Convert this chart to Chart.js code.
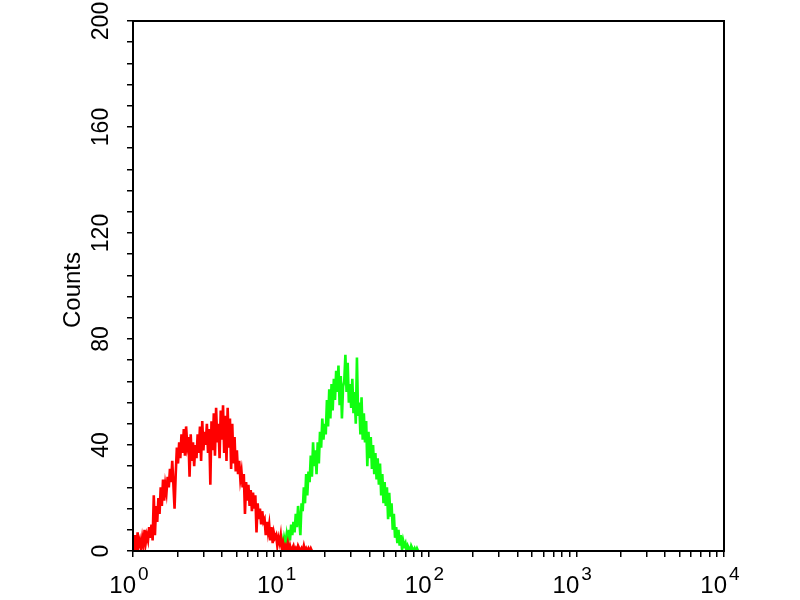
<!DOCTYPE html>
<html>
<head>
<meta charset="utf-8">
<script src="https://cdn.jsdelivr.net/npm/chart.js@4.4.0/dist/chart.umd.min.js"></script>
<style>
  body { margin: 0; background: #fff; }
  #wrap { width: 800px; height: 600px; }
</style>
</head>
<body>
<div id="wrap"><canvas id="chart"></canvas></div>
<script>
// histogram channels: 1024 channels over 4 log decades, one value every 2 channels
const channelStep = 2;
const redStart = 0;
const redCounts = [3, 1, 6, 0, 7, 2, 4, 1, 5, 2,
  8, 3, 6, 4, 9, 5, 10, 4, 21, 6,
  17, 11, 20, 14, 24, 17, 27, 19, 25, 22,
  28, 24, 31, 26, 34, 25, 16, 29, 39, 33,
  41, 35, 44, 37, 46, 36, 47, 40, 43, 28,
  44, 34, 41, 32, 40, 35, 44, 37, 47, 34,
  49, 38, 45, 40, 48, 37, 46, 25, 49, 38,
  52, 36, 54, 41, 48, 35, 53, 42, 55, 37,
  51, 34, 54, 39, 50, 31, 48, 33, 43, 30,
  38, 29, 34, 27, 30, 24, 29, 14, 26, 19,
  25, 17, 23, 15, 22, 16, 21, 7, 18, 12,
  16, 10, 15, 11, 12, 6, 11, 7, 10, 4,
  9, 3, 7, 5, 6, 2, 5, 3, 6, 1,
  3, 0, 2, 1, 3, 0, 2, 0, 1, 2,
  0, 1, 0, 2, 1, 0, 1, 0, 2, 0,
  1, 0, 1, 0, 1, 0, 0];
const greenStart = 256;
const greenCounts = [2, 4, 1, 5, 3, 6, 2, 8, 4, 10,
  6, 11, 7, 14, 9, 17, 12, 6, 18, 15,
  24, 18, 29, 21, 30, 26, 36, 28, 41, 32,
  38, 29, 41, 33, 45, 39, 50, 42, 48, 44,
  57, 47, 61, 50, 63, 53, 65, 57, 68, 60,
  70, 55, 66, 50, 62, 64, 74, 60, 71, 56,
  63, 54, 65, 52, 60, 48, 73, 51, 56, 44,
  58, 42, 52, 41, 49, 32, 45, 35, 43, 31,
  40, 29, 37, 27, 35, 25, 33, 21, 29, 18,
  26, 17, 24, 12, 22, 13, 18, 8, 14, 5,
  9, 3, 8, 2, 6, 1, 4, 2, 3, 0,
  2, 1, 0, 2, 1, 0, 1, 0, 1, 0,
  0];
const decadeLabels = ["0", "1", "2", "3", "4"];
const countTicks = [0, 40, 80, 120, 160, 200];

function toPoints(start, counts) {
  return counts.map(function (c, i) { return { x: start + i * channelStep, y: c }; });
}

const labelPlugin = {
  id: "labels",
  afterDraw: function (chart) {
    var ctx = chart.ctx;
    var area = chart.chartArea;
    var xs = chart.scales.x;
    var ys = chart.scales.y;
    ctx.save();
    ctx.strokeStyle = "#000";
    ctx.lineWidth = 2;
    ctx.strokeRect(area.left, area.top, area.right - area.left, area.bottom - area.top);
    ctx.fillStyle = "#000";

    // y tick labels, rotated
    ctx.font = "23px 'Liberation Sans', Arial, sans-serif";
    ctx.textAlign = "center";
    ctx.textBaseline = "middle";
    countTicks.forEach(function (v) {
      var y = ys.getPixelForValue(v);
      ctx.save();
      ctx.translate(102, y);
      ctx.rotate(-Math.PI / 2);
      ctx.fillText(String(v), 0, 0);
      ctx.restore();
    });

    // axis title
    ctx.save();
    ctx.font = "24px 'Liberation Sans', Arial, sans-serif";
    ctx.translate(73, 290);
    ctx.rotate(-Math.PI / 2);
    ctx.fillText("Counts", 0, 0);
    ctx.restore();

    // x tick labels as 10 with superscript exponent
    ctx.textBaseline = "alphabetic";
    decadeLabels.forEach(function (e, k) {
      var x = xs.getPixelForValue(k * 256);
      ctx.font = "24px 'Liberation Sans', Arial, sans-serif";
      ctx.textAlign = "right";
      ctx.fillText("10", x + 3, 593);
      ctx.font = "19px 'Liberation Sans', Arial, sans-serif";
      ctx.textAlign = "left";
      ctx.fillText(e, x + 5, 580);
    });
    ctx.restore();
  }
};

var ctx = document.getElementById("chart").getContext("2d");
var myChart = new Chart(ctx, {
  type: "line",
  data: {
    datasets: [
      {
        label: "red",
        data: toPoints(redStart, redCounts),
        borderColor: "#ff0000",
        borderWidth: 2.6,
        pointRadius: 0,
        tension: 0,
        fill: false,
      },
      {
        label: "green",
        data: toPoints(greenStart, greenCounts),
        borderColor: "#10ff10",
        borderWidth: 2.6,
        pointRadius: 0,
        tension: 0,
        fill: false,
      },
    ],
  },
  options: {
    responsive: true,
    maintainAspectRatio: false,
    animation: false,
    layout: { padding: { left: 0, top: 21, right: 76, bottom: 0 } },
    plugins: { legend: { display: false }, tooltip: { enabled: false } },
    scales: {
      x: {
        type: "linear",
        min: 0,
        max: 1024,
        afterFit: function (scale) { scale.height = 49; },
        afterBuildTicks: function (scale) {
          var t = [];
          for (var k = 0; k < 4; k++) {
            for (var m = 1; m < 10; m++) t.push({ value: 256 * k + 256 * Math.log10(m) });
          }
          t.push({ value: 1024 });
          scale.ticks = t;
        },
        ticks: { autoSkip: false, callback: function () { return ""; } },
        grid: { display: true, drawOnChartArea: false, drawTicks: true, tickLength: 6, color: "#000", lineWidth: 1.5 },
        border: { display: true, color: "#000", width: 2 },
      },
      y: {
        min: 0,
        max: 200,
        afterFit: function (scale) { scale.width = 133; },
        ticks: { stepSize: 8, autoSkip: false, callback: function () { return ""; } },
        grid: { display: true, drawOnChartArea: false, drawTicks: true, tickLength: 6, color: "#000", lineWidth: 1.5 },
        border: { display: true, color: "#000", width: 2 },
      },
    },
  },
  plugins: [labelPlugin],
});
</script>
</body>
</html>
